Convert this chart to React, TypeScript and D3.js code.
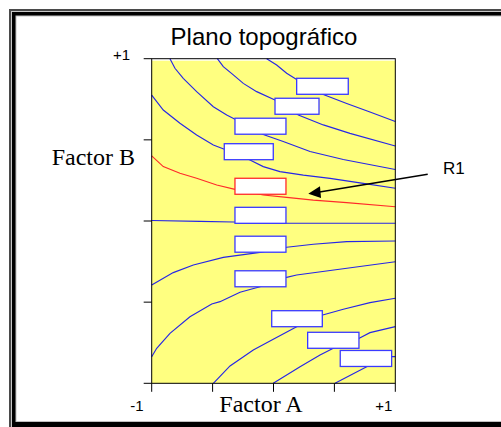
import React from 'react';
import * as d3 from 'd3';

// ---- Data (factor units, -1 .. +1) ----
const contour1: [number, number][] = [[-0.056, 1], [0.026, 0.961], [0.108, 0.91], [0.19, 0.872], [0.409, 0.779], [0.601, 0.724], [0.792, 0.672], [1, 0.613]];
const contour2: [number, number][] = [[-0.461, 1], [-0.412, 0.951], [-0.33, 0.9], [-0.248, 0.848], [-0.138, 0.797], [0.012, 0.746], [0.204, 0.653], [0.409, 0.592], [0.628, 0.54], [1, 0.462]];
const contour3: [number, number][] = [[-0.85, 1], [-0.809, 0.941], [-0.741, 0.879], [-0.631, 0.797], [-0.494, 0.704], [-0.384, 0.653], [-0.316, 0.627], [-0.084, 0.533], [0.08, 0.49], [0.3, 0.428], [0.573, 0.379], [1, 0.317]];
const contour4: [number, number][] = [[-1, 0.776], [-0.905, 0.684], [-0.768, 0.602], [-0.631, 0.53], [-0.494, 0.468], [-0.398, 0.441], [-0.193, 0.376], [-0.084, 0.335], [0.053, 0.304], [0.245, 0.283], [0.464, 0.263], [0.737, 0.232], [1, 0.202]];
const contourR1: [number, number][] = [[-1, 0.401], [-0.905, 0.335], [-0.768, 0.294], [-0.631, 0.263], [-0.466, 0.222], [-0.316, 0.195], [-0.084, 0.16], [0.108, 0.146], [0.327, 0.129], [0.601, 0.113], [1, 0.088]];
const contour6: [number, number][] = [[-1, 0.003], [-0.603, -0.002], [-0.33, -0.006], [0.103, -0.014], [1, -0.014]];
const contour7: [number, number][] = [[-1, -0.394], [-0.823, -0.318], [-0.658, -0.271], [-0.412, -0.224], [-0.111, -0.193], [0.108, -0.162], [0.327, -0.143], [0.601, -0.127], [1, -0.123]];
const contour8: [number, number][] = [[-1, -0.836], [-0.959, -0.784], [-0.85, -0.692], [-0.686, -0.59], [-0.507, -0.511], [-0.439, -0.497], [-0.275, -0.439], [-0.111, -0.405], [0.108, -0.347], [0.19, -0.333], [1, -0.251]];
const contour9: [number, number][] = [[-0.494, -1], [-0.357, -0.893], [-0.166, -0.795], [-0.002, -0.729], [0.19, -0.651], [0.404, -0.579], [0.573, -0.544], [0.792, -0.503], [1, -0.476]];
const contour10: [number, number][] = [[-0.002, -1], [0.218, -0.898], [0.382, -0.826], [0.491, -0.784], [0.704, -0.723], [0.792, -0.688], [1, -0.651]];
const contour11: [number, number][] = [[0.505, -1], [0.765, -0.898], [0.97, -0.836], [1, -0.836]];

const contours = [contour1, contour2, contour3, contour4, contourR1, contour6, contour7, contour8, contour9, contour10, contour11];
const highlighted = [false, false, false, false, true, false, false, false, false, false, false];

// label box centres (factor units)
const labelCentres: [number, number][] = [[0.402, 0.83], [0.193, 0.707], [-0.107, 0.584], [-0.203, 0.427], [-0.107, 0.214], [-0.107, 0.035], [-0.107, -0.143], [-0.107, -0.356], [0.193, -0.602], [0.491, -0.735], [0.759, -0.847]];

const xTickLabels = ['-1', '+1'];
const yTickLabels = ['+1'];
const title = 'Plano topográfico';
const xAxisTitle = 'Factor A';
const yAxisTitle = 'Factor B';
const responseName = 'R1';

// ---- Layout / style ----
const W = 501;
const H = 427;
const plot = { left: 151.7, right: 395.3, top: 58.7, bottom: 383.3 };
const boxWidths = [51.6, 44, 51, 49, 51, 51, 51, 51, 50.6, 51.3, 51.4];
const boxH = 16;
const blue = '#2626e6';
const boxBlue = '#3a3aff';
const red = '#ff2a2a';
const sans = '"Liberation Sans", Arial, sans-serif';
const serif = '"Liberation Serif", "Times New Roman", serif';

export default function App() {
  const x = d3.scaleLinear().domain([-1, 1]).range([plot.left, plot.right]);
  const y = d3.scaleLinear().domain([-1, 1]).range([plot.bottom, plot.top]);
  const line = d3.line<[number, number]>().x(d => x(d[0])).y(d => y(d[1]));
  const xt = x.ticks(4);
  const yt = y.ticks(4);

  return (
    <svg width={W} height={H} style={{ position: 'absolute', left: 0, top: 0 }}>
      {/* frame */}
      <rect x={9} y={9} width={520} height={440} fill="#4a4a4a" />
      <rect x={11} y={11} width={520} height={440} fill="#c8c8c8" />
      <rect x={12} y={12} width={520} height={440} fill="#000" />
      <rect x={15.5} y={15.5} width={510} height={406.5} fill="#c0c0c0" />
      <rect x={16.5} y={16.5} width={505} height={404.5} fill="#fff" />

      {/* plot background */}
      <rect x={plot.left} y={plot.top + 2} width={plot.right - plot.left} height={plot.bottom - plot.top - 2} fill="#ffff80" />

      {/* contours */}
      {contours.map((c, i) => (
        <path key={i} d={line(c) || ''} fill="none" stroke={highlighted[i] ? red : blue} strokeWidth={1.15} />
      ))}

      {/* label boxes */}
      {labelCentres.map((p, i) => (
        <rect key={i} x={x(p[0]) - boxWidths[i] / 2} y={y(p[1]) - boxH / 2} width={boxWidths[i]} height={boxH}
          fill="#fff" stroke={highlighted[i] ? red : boxBlue} strokeWidth={1.3} />
      ))}

      {/* plot border */}
      <rect x={plot.left} y={plot.top} width={plot.right - plot.left} height={plot.bottom - plot.top} fill="none" stroke="#000" strokeWidth={1} />

      {/* ticks */}
      {yt.map((t, i) => (
        <line key={'y' + i} x1={plot.left - 8} x2={plot.left} y1={y(t)} y2={y(t)} stroke="#000" strokeWidth={1} />
      ))}
      {xt.map((t, i) => (
        <line key={'x' + i} x1={x(t)} x2={x(t)} y1={plot.bottom} y2={plot.bottom + 8.5} stroke="#000" strokeWidth={1} />
      ))}

      {/* tick labels */}
      <text x={plot.left - 21.5} y={y(1) + 1} textAnchor="end" fontFamily={sans} fontSize={15} fill="#000">{yTickLabels[0]}</text>
      <text x={x(-1) - 8} y={411} textAnchor="end" fontFamily={sans} fontSize={15} fill="#000">{xTickLabels[0]}</text>
      <text x={x(1) - 3} y={411} textAnchor="end" fontFamily={sans} fontSize={15} fill="#000">{xTickLabels[1]}</text>

      {/* titles */}
      <text x={264} y={45} textAnchor="middle" fontFamily={sans} fontSize={24} fill="#000">{title}</text>
      <text x={51.7} y={165} fontFamily={serif} fontSize={24} fill="#000">{yAxisTitle}</text>
      <text x={261} y={411.5} textAnchor="middle" fontFamily={serif} fontSize={24} fill="#000">{xAxisTitle}</text>

      {/* response annotation */}
      <text x={443} y={174} fontFamily={sans} fontSize={17} fill="#000">{responseName}</text>
      <line x1={427.7} y1={174.3} x2={318} y2={192.3} stroke="#000" strokeWidth={1.4} />
      <path d={`M308.3,193.8 L320,186.2 L321,198 Z`} fill="#000" />
    </svg>
  );
}
